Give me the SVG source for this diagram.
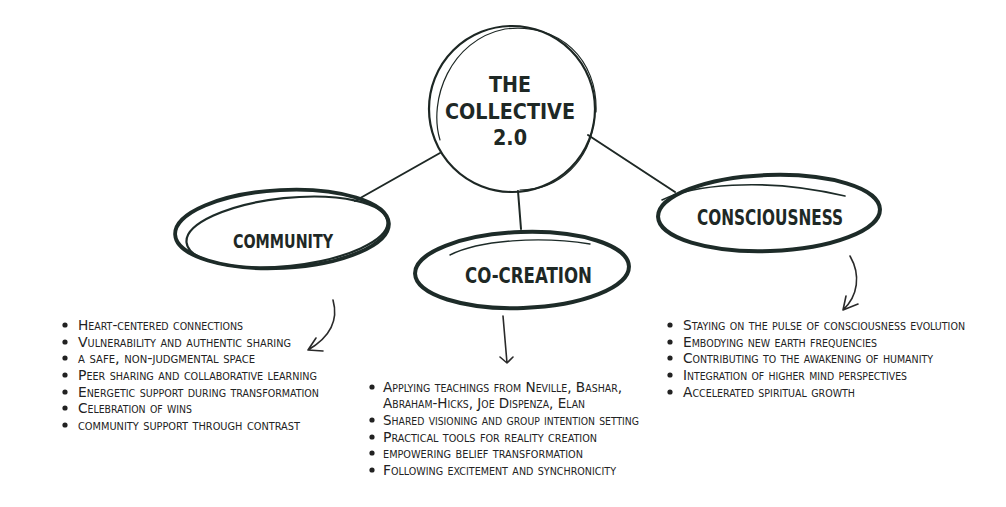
<svg xmlns="http://www.w3.org/2000/svg" width="1006" height="507" viewBox="0 0 1006 507">
<style>
.bg{fill:#ffffff}
.ring{fill:none;stroke:#1d2724;stroke-linecap:round}
.oval{fill:none;stroke:#1d2b28;stroke-linecap:round}
.title{font-family:"DejaVu Sans Condensed","Liberation Sans Narrow","Liberation Sans",sans-serif;font-weight:bold;fill:#1e2825;text-anchor:middle}
.label{font-family:"DejaVu Sans Condensed","Liberation Sans Narrow","Liberation Sans",sans-serif;font-weight:bold;fill:#1e2825}
.item{font-family:"Liberation Sans Narrow","DejaVu Sans Condensed","Liberation Sans",sans-serif;font-size:14.5px;font-variant:small-caps;fill:#222}
.dot{fill:#222}
.conn{fill:none;stroke:#1e2825;stroke-width:2;stroke-linecap:round;stroke-linejoin:round}
.arrow{fill:none;stroke:#2a2a2a;stroke-width:1.6;stroke-linecap:round;stroke-linejoin:round}
</style>
<rect class="bg" x="0" y="0" width="1006" height="507"/>
<g id="connectors">
<path class="conn" d="M440,153 L355,201"/>
<path class="conn" d="M518,191 L521,229"/>
<path class="conn" d="M588,135 L675,192"/>
<path class="arrow" d="M333,300 C338,318 332,336 308,350 M316,338 L308,350 L323,351"/>
<path class="arrow" d="M503,316 L507,363 M500,357 L507,363 L513,357"/>
<path class="arrow" d="M850,256 C861,275 858,296 843,310 M846,296 L843,310 L858,304"/>
</g>
<g id="center">
<circle class="ring" cx="512" cy="109" r="83" stroke-width="2.2"/>
<path class="ring" d="M440,140 C428,100 450,40 505,29 C560,22 598,60 596,112" stroke-width="1.2"/>
<path class="ring" d="M520,190 C560,190 590,160 594,120" stroke-width="1.2"/>
<text class="title" x="510" y="92" font-size="22" textLength="42" lengthAdjust="spacingAndGlyphs">THE</text>
<text class="title" x="510" y="119" font-size="22" textLength="130" lengthAdjust="spacingAndGlyphs">COLLECTIVE</text>
<text class="title" x="510" y="145" font-size="22" textLength="34" lengthAdjust="spacingAndGlyphs">2.0</text>
</g>
<g id="community">
<ellipse class="oval" cx="282" cy="229" rx="107" ry="39" transform="rotate(-3 282 229)" stroke-width="3.8"/>
<ellipse class="oval" cx="287" cy="232" rx="101" ry="34" transform="rotate(-6 287 232)" stroke-width="2.2"/>
<text class="label" x="233" y="248" font-size="20" textLength="100" lengthAdjust="spacingAndGlyphs">COMMUNITY</text>
</g>
<g id="co-creation">
<ellipse class="oval" cx="522" cy="270" rx="107" ry="38" transform="rotate(-2 522 270)" stroke-width="4"/>
<path class="oval" d="M450,255 C480,240 540,236 590,244" stroke-width="1.4"/>
<text class="label" x="465" y="283" font-size="21" textLength="127" lengthAdjust="spacingAndGlyphs">CO-CREATION</text>
</g>
<g id="consciousness">
<ellipse class="oval" cx="769" cy="213" rx="111" ry="38" transform="rotate(-2 769 213)" stroke-width="4"/>
<path class="oval" d="M662,200 C690,186 760,176 845,196" stroke-width="1.6"/>
<text class="label" x="697" y="225" font-size="22" textLength="146" lengthAdjust="spacingAndGlyphs">CONSCIOUSNESS</text>
</g>
<g id="community-list">
<circle class="dot" cx="65" cy="325" r="2.6"/>
<circle class="dot" cx="65" cy="342" r="2.6"/>
<circle class="dot" cx="65" cy="358" r="2.6"/>
<circle class="dot" cx="65" cy="375" r="2.6"/>
<circle class="dot" cx="65" cy="392" r="2.6"/>
<circle class="dot" cx="65" cy="408" r="2.6"/>
<circle class="dot" cx="65" cy="425" r="2.6"/>
<text class="item" x="78" y="330" textLength="165" lengthAdjust="spacingAndGlyphs">Heart-centered connections</text>
<text class="item" x="78" y="347" textLength="213" lengthAdjust="spacingAndGlyphs">Vulnerability and authentic sharing</text>
<text class="item" x="78" y="363" textLength="177" lengthAdjust="spacingAndGlyphs">a safe, non-judgmental space</text>
<text class="item" x="78" y="380" textLength="239" lengthAdjust="spacingAndGlyphs">Peer sharing and collaborative learning</text>
<text class="item" x="78" y="397" textLength="241" lengthAdjust="spacingAndGlyphs">Energetic support during transformation</text>
<text class="item" x="78" y="413" textLength="114" lengthAdjust="spacingAndGlyphs">Celebration of wins</text>
<text class="item" x="78" y="430" textLength="222" lengthAdjust="spacingAndGlyphs">community support through contrast</text>
</g>
<g id="co-creation-list">
<circle class="dot" cx="372" cy="387" r="2.6"/>
<circle class="dot" cx="372" cy="420" r="2.6"/>
<circle class="dot" cx="372" cy="437" r="2.6"/>
<circle class="dot" cx="372" cy="453" r="2.6"/>
<circle class="dot" cx="372" cy="470" r="2.6"/>
<text class="item" x="383" y="392" textLength="239" lengthAdjust="spacingAndGlyphs">Applying teachings from Neville, Bashar,</text>
<text class="item" x="383" y="408" textLength="202" lengthAdjust="spacingAndGlyphs">Abraham-Hicks, Joe Dispenza, Elan</text>
<text class="item" x="383" y="425" textLength="256" lengthAdjust="spacingAndGlyphs">Shared visioning and group intention setting</text>
<text class="item" x="383" y="442" textLength="214" lengthAdjust="spacingAndGlyphs">Practical tools for reality creation</text>
<text class="item" x="383" y="458" textLength="200" lengthAdjust="spacingAndGlyphs">empowering belief transformation</text>
<text class="item" x="383" y="475" textLength="233" lengthAdjust="spacingAndGlyphs">Following excitement and synchronicity</text>
</g>
<g id="consciousness-list">
<circle class="dot" cx="670" cy="325" r="2.6"/>
<circle class="dot" cx="670" cy="342" r="2.6"/>
<circle class="dot" cx="670" cy="358" r="2.6"/>
<circle class="dot" cx="670" cy="375" r="2.6"/>
<circle class="dot" cx="670" cy="392" r="2.6"/>
<text class="item" x="683" y="330" textLength="282" lengthAdjust="spacingAndGlyphs">Staying on the pulse of consciousness evolution</text>
<text class="item" x="683" y="347" textLength="194" lengthAdjust="spacingAndGlyphs">Embodying new earth frequencies</text>
<text class="item" x="683" y="363" textLength="250" lengthAdjust="spacingAndGlyphs">Contributing to the awakening of humanity</text>
<text class="item" x="683" y="380" textLength="224" lengthAdjust="spacingAndGlyphs">Integration of higher mind perspectives</text>
<text class="item" x="683" y="397" textLength="172" lengthAdjust="spacingAndGlyphs">Accelerated spiritual growth</text>
</g>
</svg>
